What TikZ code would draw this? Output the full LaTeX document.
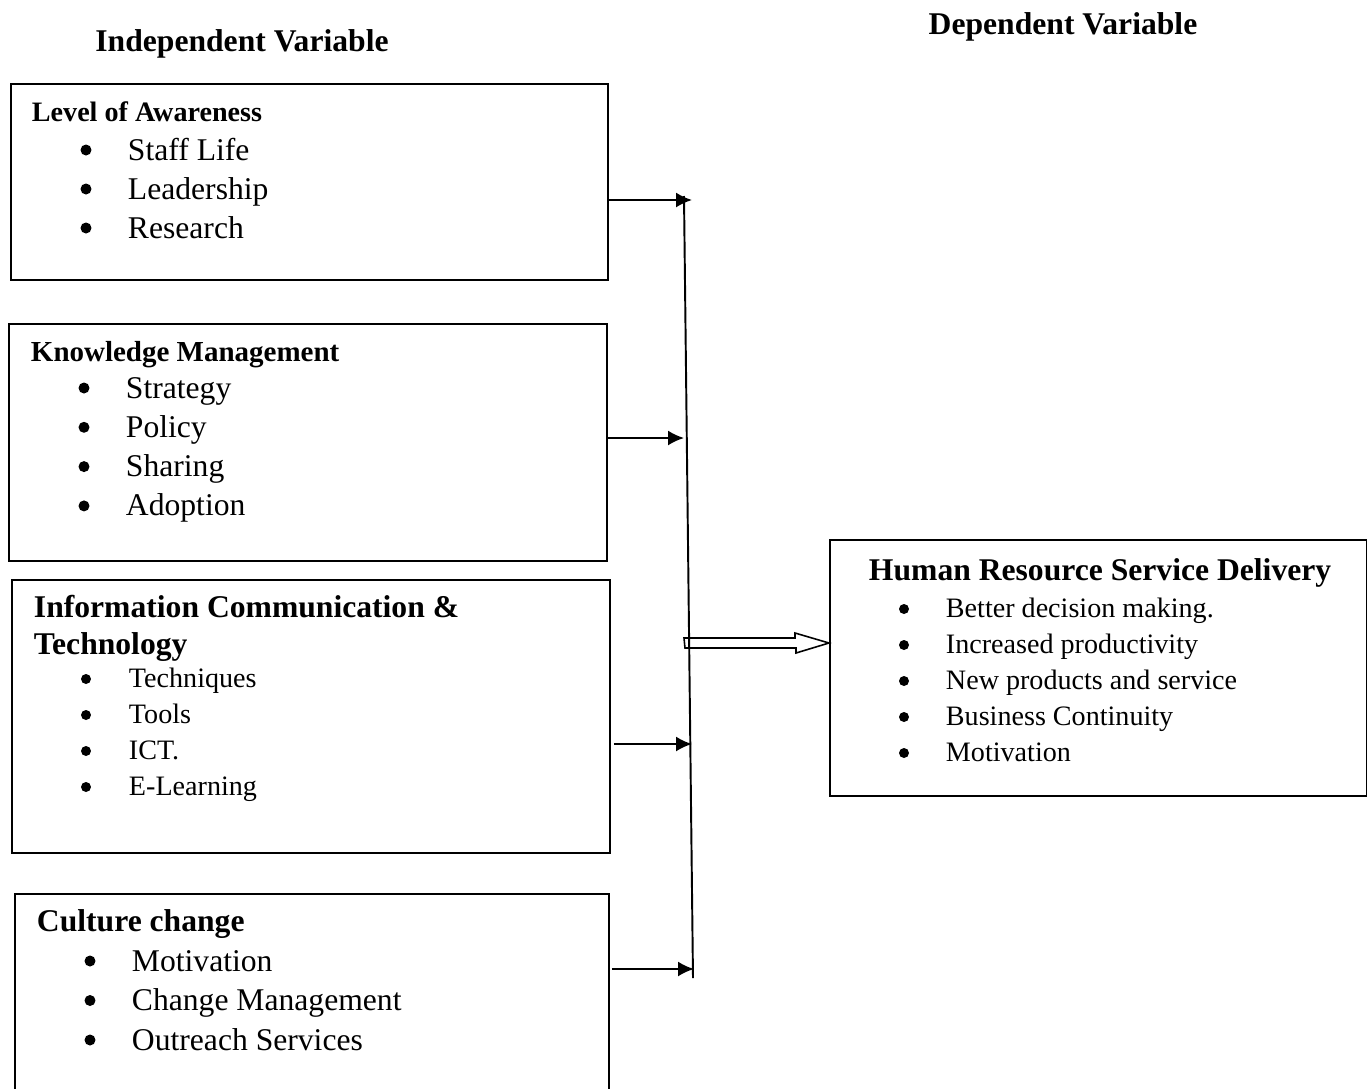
\documentclass[tikz,border=0pt]{standalone}
\usepackage{fontspec}
\setmainfont{Liberation Serif}
\usepackage{tikz}
\usetikzlibrary{arrows.meta}
\usetikzlibrary{positioning,calc}

\begin{document}
\begin{tikzpicture}[x=0.02cm, y=-0.02cm, >={Latex[length=0.32cm,width=0.3cm]}, line width=1.1pt,
	box/.style={draw, anchor=north west, inner sep=0pt},
	head/.style={anchor=base west, inner sep=0pt, font=\bfseries\fontsize{18}{21}\selectfont},
	item/.style={anchor=base west, inner sep=0pt, font=\fontsize{18}{21}\selectfont}]
		\useasboundingbox (0,0) rectangle (1367,1089);
		% titles
		\node[anchor=base, inner sep=0pt, font=\bfseries\fontsize{18}{21}\selectfont] (indep) at (242,51) {Independent Variable};
		\node[anchor=base, inner sep=0pt, font=\bfseries\fontsize{18}{21}\selectfont] (dep) at (1063,34) {Dependent Variable};
		% boxes
		\node[box, minimum width=11.94cm, minimum height=3.92cm] (aw) at (10,83) {};
		\node[box, minimum width=11.96cm, minimum height=4.74cm] (km) at (8,323) {};
		\node[box, minimum width=11.96cm, minimum height=5.46cm] (ict) at (11,579) {};
		\node[box, minimum width=11.88cm, minimum height=4.6cm] (cc) at (14,893) {};
		\node[box, minimum width=10.74cm, minimum height=5.12cm] (hr) at (829,539) {};
		% level of awareness
		\node[head, font=\bfseries\fontsize{16}{19}\selectfont] (awt) at (31,121) {Level of Awareness};
		\foreach \t [count=\i from 0] in {Staff Life, Leadership, Research} {
			\fill ($(86,150)+(0,39*\i)$) circle (0.11cm);
			\node[item] (aw\i) at (127,{160+39*\i}) {\t};
		}
		% knowledge management
		\node[head, font=\bfseries\fontsize{16.5}{19}\selectfont] (kmt) at (30,361) {Knowledge Management};
		\foreach \t [count=\i from 0] in {Strategy, Policy, Sharing, Adoption} {
			\fill ($(84,388)+(0,39.3*\i)$) circle (0.11cm);
			\node[item] (km\i) at (125,{398+39.3*\i}) {\t};
		}
		% ict
		\node[head] (ictt) at (33,617) {Information Communication \&};
		\node[head] (ictt2) at (33,654) {Technology};
		\foreach \t [count=\i from 0] in {Techniques, Tools, ICT., E-Learning} {
			\fill ($(86,679)+(0,36*\i)$) circle (0.1cm);
			\node[item, font=\fontsize{16}{19}\selectfont] (ict\i) at (128,{687+36*\i}) {\t};
		}
		% culture change
		\node[head] (cct) at (36,931) {Culture change};
		\foreach \t [count=\i from 0] in {Motivation, Change Management, Outreach Services} {
			\fill ($(90,961)+(0,39.5*\i)$) circle (0.11cm);
			\node[item] (cc\i) at (131,{971+39.5*\i}) {\t};
		}
		% human resource service delivery
		\node[head] (hrt) at (868,580) {Human Resource Service Delivery};
		\foreach \t [count=\i from 0] in {Better decision making., Increased productivity, New products and service, Business Continuity, Motivation} {
			\fill ($(904,609)+(0,36*\i)$) circle (0.1cm);
			\node[item, font=\fontsize{16}{19}\selectfont] (hr\i) at (945,{617+36*\i}) {\t};
		}
		% connectors
		\coordinate (top) at (684,196);
		\coordinate (bot) at (693,978);
		\coordinate (t1) at (692,200);
		\coordinate (t2) at (684,438);
		\coordinate (t3) at (692,744);
		\coordinate (t4) at (694,969);
		\coordinate (j) at (684,643);
		\draw (top) -- (bot);
		\draw[->] (aw.east |- t1) -- (t1);
		\draw[->] (km.east |- t2) -- (t2);
		\draw[->] ($(ict.east |- t3)+(3,0)$) -- (t3);
		\draw[->] ($(cc.east |- t4)+(2,0)$) -- (t4);
		\draw[line width=0.9pt] (j) ++(0,-5) -- ++(111,0) -- ++(0,-5) -- (hr.west |- j) -- ++(-33,10) -- ++(0,-5) -- ++(-111,0) -- cycle;
\end{tikzpicture}
\end{document}
